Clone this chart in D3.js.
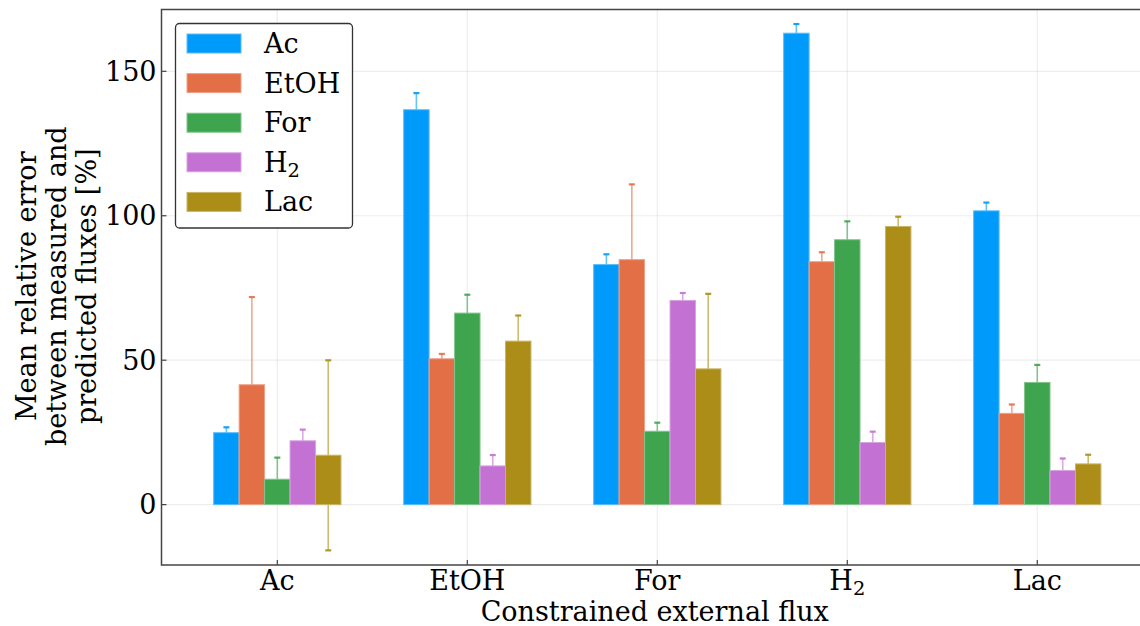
<!DOCTYPE html>
<html>
<head>
<meta charset="utf-8">
<script src="https://cdn.jsdelivr.net/npm/d3@7"></script>
<style>
  html, body { margin: 0; padding: 0; background: #fff; }
  svg { display: block; font-family: "DejaVu Serif", serif; }
</style>
</head>
<body>
<svg id="chart" width="1140" height="626"></svg>
<script>
// Constrained external flux (x groups) and predicted flux series
const categories = ["Ac", "EtOH", "For", "H2", "Lac"];
const seriesNames = ["Ac", "EtOH", "For", "H2", "Lac"];

// Mean relative error [%] per series, one entry per constrained flux
const valuesAc   = [24.9, 136.7, 83.1, 163.2, 101.7];
const valuesEtOH = [41.5, 50.5, 84.8, 84.1, 31.6];
const valuesFor  = [8.8, 66.3, 25.4, 91.7, 42.3];
const valuesH2   = [22.1, 13.4, 70.7, 21.5, 11.8];
const valuesLac  = [17.1, 56.6, 47.0, 96.3, 14.1];

// Error bar half-widths
const errAc   = [1.9, 5.8, 3.6, 3.2, 2.9];
const errEtOH = [30.4, 1.7, 26.1, 3.3, 3.1];
const errFor  = [7.5, 6.4, 3.0, 6.4, 6.1];
const errH2   = [3.9, 3.8, 2.6, 3.8, 4.2];
const errLac  = [32.9, 8.9, 26.0, 3.4, 3.2];

const yTicks = [0, 50, 100, 150];
const colors = ["#009AFA", "#E36F47", "#3EA44E", "#C371D2", "#AC8D18"];

const values = [valuesAc, valuesEtOH, valuesFor, valuesH2, valuesLac];
const errors = [errAc, errEtOH, errFor, errH2, errLac];

const svg = d3.select("#chart");
const plot = { left: 161.5, top: 9.5, right: 1153.1, bottom: 565 };

const x = d3.scaleLinear().domain([-0.6096, categories.length - 1 + 0.6096])
  .range([plot.left, plot.right]);
const y = d3.scaleLinear().domain([-20.9, 171.4]).range([plot.bottom, plot.top]);
const barW = 0.134; // in category units

// Write a label, turning a trailing digit into a subscript
function writeLabel(sel, label, size) {
  const m = label.match(/^([A-Za-z]+?)(\d)$/);
  if (m) {
    sel.append("tspan").text(m[1]);
    sel.append("tspan").attr("font-size", size * 0.72).attr("dy", size * 0.2).text(m[2]);
  } else {
    sel.text(label);
  }
}

const clipId = "plotClip";
svg.append("defs").append("clipPath").attr("id", clipId)
  .append("rect").attr("x", plot.left).attr("y", plot.top)
  .attr("width", plot.right - plot.left).attr("height", plot.bottom - plot.top);

// Grid
const grid = svg.append("g").attr("clip-path", `url(#${clipId})`);
grid.selectAll("line.gy").data(yTicks).join("line")
  .attr("x1", plot.left).attr("x2", plot.right)
  .attr("y1", d => y(d)).attr("y2", d => y(d))
  .attr("stroke", "#000").attr("stroke-opacity", 0.07).attr("stroke-width", 1.2);
grid.selectAll("line.gx").data(categories).join("line")
  .attr("x1", (d, i) => x(i)).attr("x2", (d, i) => x(i))
  .attr("y1", plot.top).attr("y2", plot.bottom)
  .attr("stroke", "#000").attr("stroke-opacity", 0.07).attr("stroke-width", 1.2);

// Build flat records
const records = [];
seriesNames.forEach((s, k) => {
  categories.forEach((c, i) => {
    records.push({ k, i, v: values[k][i], e: errors[k][i] });
  });
});
const cx = d => x(d.i + (d.k - 2) * barW);

const marks = svg.append("g").attr("clip-path", `url(#${clipId})`);

// Error bars (drawn under the bars)
const eb = marks.append("g");
eb.selectAll("line").data(records).join("line")
  .attr("x1", cx).attr("x2", cx)
  .attr("y1", d => y(d.v + d.e)).attr("y2", d => y(d.v - d.e))
  .attr("stroke", d => colors[d.k]).attr("stroke-opacity", 0.6).attr("stroke-width", 1.6);
const capW = 6;
eb.selectAll("g.cap").data(records).join("g").each(function(d) {
  const g = d3.select(this);
  [d.v + d.e, d.v - d.e].forEach(t => {
    g.append("rect").attr("x", cx(d) - capW / 2).attr("y", y(t) - 1)
      .attr("width", capW).attr("height", 2.2)
      .attr("fill", colors[d.k]).attr("opacity", 0.9);
  });
});

// Bars
marks.append("g").selectAll("rect").data(records).join("rect")
  .attr("x", d => x(d.i + (d.k - 2.5) * barW))
  .attr("width", d => x(d.i + (d.k - 1.5) * barW) - x(d.i + (d.k - 2.5) * barW))
  .attr("y", d => Math.min(y(d.v), y(0)))
  .attr("height", d => Math.abs(y(0) - y(d.v)))
  .attr("fill", d => colors[d.k])
  .attr("stroke", d => d3.interpolateRgb(colors[d.k], "#fff")(0.35))
  .attr("stroke-width", 1);

// Frame
const frame = svg.append("g").attr("fill", "none").attr("stroke", "#444").attr("stroke-width", 1.5);
frame.append("rect").attr("x", plot.left).attr("y", plot.top)
  .attr("width", plot.right - plot.left).attr("height", plot.bottom - plot.top);

// Ticks (inward)
const tickLen = 5;
svg.append("g").selectAll("line").data(yTicks).join("line")
  .attr("x1", plot.left).attr("x2", plot.left + tickLen)
  .attr("y1", d => y(d)).attr("y2", d => y(d))
  .attr("stroke", "#444").attr("stroke-width", 1.2);
svg.append("g").selectAll("line").data(categories).join("line")
  .attr("x1", (d, i) => x(i)).attr("x2", (d, i) => x(i))
  .attr("y1", plot.bottom).attr("y2", plot.bottom - tickLen)
  .attr("stroke", "#444").attr("stroke-width", 1.2);

const fs = 27;
// Y tick labels
svg.append("g").selectAll("text").data(yTicks).join("text")
  .attr("x", plot.left - 5).attr("y", d => y(d)).attr("dy", "0.36em")
  .attr("text-anchor", "end").attr("font-size", fs).attr("fill", "#000")
  .text(d => d);

// X tick labels
svg.append("g").selectAll("text").data(categories).join("text")
  .attr("x", (d, i) => x(i)).attr("y", 590)
  .attr("text-anchor", "middle").attr("font-size", fs).attr("fill", "#000")
  .each(function(d) { writeLabel(d3.select(this), d, fs); });

// Axis titles
svg.append("text").attr("x", (plot.left + 1140) / 2 + 4).attr("y", 621)
  .attr("text-anchor", "middle").attr("font-size", fs).attr("fill", "#000")
  .text("Constrained external flux");

const yTitle = ["Mean relative error", "between measured and", "predicted fluxes [%]"];
svg.append("g").attr("transform", `translate(0, ${(plot.top + plot.bottom) / 2 - 1}) rotate(-90)`)
  .selectAll("text").data(yTitle).join("text")
  .attr("x", 0).attr("y", (d, i) => 36 + i * 30)
  .attr("text-anchor", "middle").attr("font-size", fs).attr("fill", "#000")
  .text(d => d);

// Legend
const leg = svg.append("g");
leg.append("rect").attr("x", 175.5).attr("y", 23.5).attr("width", 177).attr("height", 204.5)
  .attr("rx", 4).attr("fill", "#fff").attr("stroke", "#333").attr("stroke-width", 1.3);
const rows = leg.selectAll("g.row").data(seriesNames).join("g")
  .attr("transform", (d, k) => `translate(0, ${43.5 + k * 39.6})`);
rows.append("rect").attr("x", 187).attr("y", -9.5).attr("width", 54).attr("height", 19)
  .attr("fill", (d, k) => colors[k])
  .attr("stroke", (d, k) => d3.interpolateRgb(colors[k], "#fff")(0.35)).attr("stroke-width", 1);
rows.append("text").attr("x", 264).attr("y", 9.5)
  .attr("font-size", fs).attr("fill", "#000")
  .each(function(d) { writeLabel(d3.select(this), d, fs); });
</script>
</body>
</html>
